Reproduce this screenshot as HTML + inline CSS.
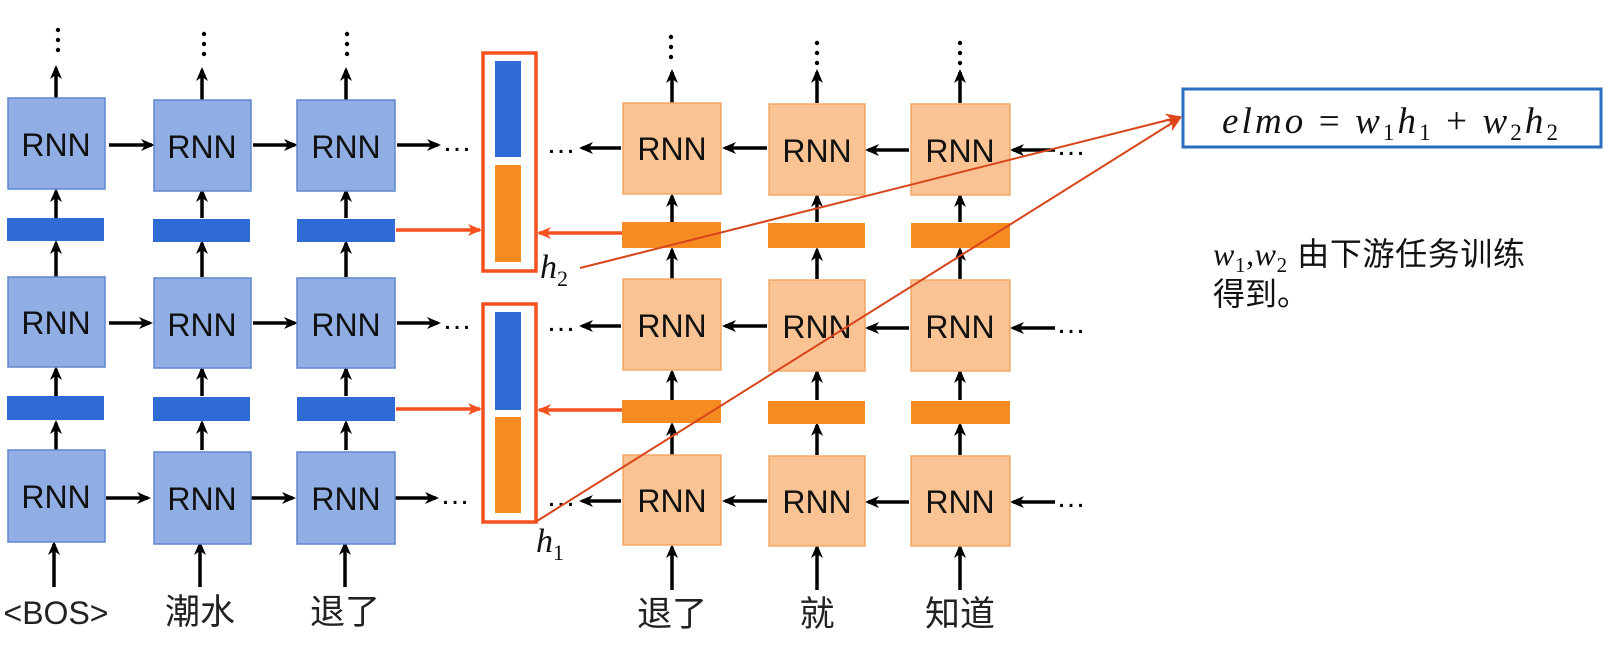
<!DOCTYPE html>
<html><head><meta charset="utf-8"><style>
html,body{margin:0;padding:0;background:#fff;}
svg{display:block;}
.rnn{font-family:"Liberation Sans","DejaVu Sans",sans-serif;font-size:32px;fill:#111;text-anchor:middle;}
.lbl{font-family:"Liberation Sans","Noto Sans CJK SC",sans-serif;font-size:35px;fill:#222;text-anchor:middle;}
.m{font-family:"Liberation Serif","DejaVu Serif",serif;font-style:italic;fill:#111;}
</style></head><body>
<svg width="1614" height="654" viewBox="0 0 1614 654" xmlns="http://www.w3.org/2000/svg">
<defs>
<marker id="a" markerWidth="14" markerHeight="14" refX="11" refY="7" orient="auto" markerUnits="userSpaceOnUse"><path d="M0,1 L14,7 L0,13 L4,7 z" fill="#000"/></marker>
<marker id="r" markerWidth="14" markerHeight="14" refX="12" refY="7" orient="auto" markerUnits="userSpaceOnUse"><path d="M0,1 L14,7 L0,13 L4,7 z" fill="#f4511e"/></marker>
<marker id="r2" markerWidth="16" markerHeight="14" refX="14" refY="7" orient="auto" markerUnits="userSpaceOnUse"><path d="M0,0 L16,7 L0,14 L5,7 z" fill="#e0441a"/></marker>
</defs>
<g stroke="#000" stroke-width="3.5" fill="none" marker-end="url(#a)">
<line x1="56" y1="98" x2="56" y2="68"/><line x1="202" y1="100" x2="202" y2="70"/><line x1="346" y1="100" x2="346" y2="70"/>
<line x1="56" y1="218" x2="56" y2="191"/><line x1="202" y1="218" x2="202" y2="191"/><line x1="346" y1="218" x2="346" y2="191"/>
<line x1="56" y1="277" x2="56" y2="243"/><line x1="202" y1="277" x2="202" y2="243"/><line x1="346" y1="277" x2="346" y2="243"/>
<line x1="56" y1="396" x2="56" y2="369"/><line x1="202" y1="396" x2="202" y2="369"/><line x1="346" y1="396" x2="346" y2="369"/>
<line x1="56" y1="450" x2="56" y2="423"/><line x1="202" y1="450" x2="202" y2="423"/><line x1="346" y1="450" x2="346" y2="423"/>
<line x1="54" y1="587" x2="54" y2="544"/><line x1="200" y1="587" x2="200" y2="544"/><line x1="345" y1="587" x2="345" y2="544"/>
<line x1="109" y1="145" x2="152" y2="145"/><line x1="253" y1="145" x2="295" y2="145"/><line x1="397" y1="145" x2="438" y2="145"/>
<line x1="109" y1="323" x2="150" y2="323"/><line x1="253" y1="323" x2="295" y2="323"/><line x1="397" y1="323" x2="438" y2="323"/>
<line x1="106" y1="498" x2="148" y2="498"/><line x1="251" y1="498" x2="293" y2="498"/><line x1="395" y1="498" x2="436" y2="498"/>
<line x1="672" y1="103" x2="672" y2="72"/><line x1="817" y1="103" x2="817" y2="72"/><line x1="960" y1="103" x2="960" y2="72"/>
<line x1="672" y1="222" x2="672" y2="196"/><line x1="817" y1="222" x2="817" y2="196"/><line x1="960" y1="222" x2="960" y2="196"/>
<line x1="672" y1="279" x2="672" y2="250"/><line x1="817" y1="279" x2="817" y2="250"/><line x1="960" y1="279" x2="960" y2="250"/>
<line x1="672" y1="400" x2="672" y2="372"/><line x1="817" y1="400" x2="817" y2="372"/><line x1="960" y1="400" x2="960" y2="372"/>
<line x1="672" y1="455" x2="672" y2="425"/><line x1="817" y1="455" x2="817" y2="425"/><line x1="960" y1="455" x2="960" y2="425"/>
<line x1="672" y1="590" x2="672" y2="547"/><line x1="817" y1="590" x2="817" y2="547"/><line x1="960" y1="590" x2="960" y2="547"/>
<line x1="621" y1="148" x2="582" y2="148"/><line x1="767" y1="148" x2="725" y2="148"/><line x1="909" y1="150" x2="868" y2="150"/><line x1="1055" y1="150" x2="1013" y2="150"/>
<line x1="621" y1="326" x2="582" y2="326"/><line x1="767" y1="326" x2="725" y2="326"/><line x1="909" y1="328" x2="868" y2="328"/><line x1="1055" y1="328" x2="1013" y2="328"/>
<line x1="621" y1="501" x2="582" y2="501"/><line x1="767" y1="501" x2="725" y2="501"/><line x1="909" y1="502" x2="868" y2="502"/><line x1="1055" y1="502" x2="1013" y2="502"/>
</g>
<g fill="#000">
<circle cx="58" cy="30" r="2.2"/><circle cx="58" cy="40" r="2.2"/><circle cx="58" cy="50" r="2.2"/>
<circle cx="204" cy="34" r="2.2"/><circle cx="204" cy="44" r="2.2"/><circle cx="204" cy="54" r="2.2"/>
<circle cx="347" cy="34" r="2.2"/><circle cx="347" cy="44" r="2.2"/><circle cx="347" cy="54" r="2.2"/>
<circle cx="671" cy="37" r="2.2"/><circle cx="671" cy="47" r="2.2"/><circle cx="671" cy="57" r="2.2"/>
<circle cx="817" cy="43" r="2.2"/><circle cx="817" cy="53" r="2.2"/><circle cx="817" cy="63" r="2.2"/>
<circle cx="960" cy="43" r="2.2"/><circle cx="960" cy="53" r="2.2"/><circle cx="960" cy="63" r="2.2"/>
</g>
<g font-family="Liberation Sans,sans-serif" font-size="30" fill="#000">
<text x="442" y="151">…</text><text x="442" y="329">…</text><text x="440" y="504">…</text>
<text x="546" y="153">…</text><text x="546" y="331">…</text><text x="546" y="506">…</text>
<text x="1056" y="155">…</text><text x="1056" y="333">…</text><text x="1056" y="507">…</text>
</g>
<g fill="#90aee3" stroke="#5f86d0" stroke-width="1.5">
<rect x="8" y="98" width="97" height="91"/><rect x="154" y="100" width="97" height="91"/><rect x="297" y="100" width="98" height="91"/>
<rect x="8" y="277" width="97" height="90"/><rect x="154" y="278" width="97" height="90"/><rect x="297" y="278" width="98" height="90"/>
<rect x="8" y="450" width="97" height="92"/><rect x="154" y="452" width="97" height="92"/><rect x="297" y="452" width="98" height="92"/>
</g>
<g fill="#2e6bd4">
<rect x="7" y="218" width="97" height="23"/><rect x="153" y="219" width="97" height="23"/><rect x="297" y="219" width="98" height="23"/>
<rect x="7" y="396" width="97" height="24"/><rect x="153" y="397" width="97" height="24"/><rect x="297" y="397" width="98" height="24"/>
</g>
<g fill="#f9c394" stroke="#f2a868" stroke-width="1.5">
<rect x="623" y="103" width="98" height="91"/><rect x="769" y="104" width="96" height="91"/><rect x="911" y="104" width="99" height="91"/>
<rect x="623" y="279" width="98" height="91"/><rect x="769" y="280" width="96" height="91"/><rect x="911" y="280" width="99" height="91"/>
<rect x="623" y="455" width="98" height="90"/><rect x="769" y="456" width="96" height="90"/><rect x="911" y="456" width="99" height="90"/>
</g>
<g fill="#f68b21">
<rect x="622" y="222" width="99" height="26"/><rect x="768" y="223" width="97" height="25"/><rect x="911" y="223" width="99" height="25"/>
<rect x="622" y="400" width="99" height="23"/><rect x="768" y="401" width="97" height="23"/><rect x="911" y="401" width="99" height="23"/>
</g>
<g class="rnn">
<text x="56" y="156">RNN</text><text x="202" y="158">RNN</text><text x="346" y="158">RNN</text>
<text x="56" y="334">RNN</text><text x="202" y="336">RNN</text><text x="346" y="336">RNN</text>
<text x="56" y="508">RNN</text><text x="202" y="510">RNN</text><text x="346" y="510">RNN</text>
<text x="672" y="160">RNN</text><text x="817" y="162">RNN</text><text x="960" y="162">RNN</text>
<text x="672" y="337">RNN</text><text x="817" y="338">RNN</text><text x="960" y="338">RNN</text>
<text x="672" y="512">RNN</text><text x="817" y="513">RNN</text><text x="960" y="513">RNN</text>
</g>
<g fill="none" stroke="#f4511e" stroke-width="3.5">
<rect x="483" y="53" width="53" height="218"/><rect x="483" y="304" width="53" height="218"/>
</g>
<rect x="495" y="61" width="26" height="96" fill="#2e6bd4"/><rect x="495" y="165" width="26" height="97" fill="#f68b21"/>
<rect x="495" y="312" width="26" height="98" fill="#2e6bd4"/><rect x="495" y="417" width="26" height="96" fill="#f68b21"/>
<g stroke="#f4511e" stroke-width="3.5" marker-end="url(#r)">
<line x1="396" y1="230" x2="480" y2="230"/><line x1="622" y1="233" x2="539" y2="233"/>
<line x1="396" y1="409" x2="480" y2="409"/><line x1="622" y1="410" x2="539" y2="410"/>
</g>
<g stroke="#d9451b" stroke-width="2" marker-end="url(#r2)">
<line x1="580" y1="268" x2="1180" y2="117"/><line x1="537" y1="521" x2="1180" y2="118"/>
</g>
<text class="m" x="540" y="278" font-size="34">h<tspan font-size="22" font-style="normal" dy="8">2</tspan></text>
<text class="m" x="536" y="552" font-size="34">h<tspan font-size="22" font-style="normal" dy="8">1</tspan></text>
<g class="lbl">
<text x="56" y="624" font-size="32">&lt;BOS&gt;</text><text x="200" y="624">潮水</text><text x="345" y="624">退了</text>
<text x="672" y="626">退了</text><text x="817" y="626">就</text><text x="960" y="626">知道</text>
</g>
<rect x="1183" y="89" width="418" height="58" fill="#fff" stroke="#2a6fc0" stroke-width="3"/>
<text class="m" x="1222" y="133" font-size="37" textLength="336" lengthAdjust="spacing">elmo <tspan font-style="normal">=</tspan> w<tspan font-size="23" font-style="normal" dy="7">1</tspan><tspan dy="-7">h</tspan><tspan font-size="23" font-style="normal" dy="7">1</tspan><tspan dy="-7" font-style="normal"> + </tspan>w<tspan font-size="23" font-style="normal" dy="7">2</tspan><tspan dy="-7">h</tspan><tspan font-size="23" font-style="normal" dy="7">2</tspan></text>
<text x="1213" y="265" font-size="32" fill="#111" font-family="Liberation Sans,Noto Sans CJK SC,sans-serif" textLength="312" lengthAdjust="spacing"><tspan font-family="Liberation Serif,serif" font-style="italic">w</tspan><tspan font-size="21" dy="7" font-family="Liberation Serif,serif">1</tspan><tspan dy="-7" font-family="Liberation Serif,serif">,</tspan><tspan font-family="Liberation Serif,serif" font-style="italic">w</tspan><tspan font-size="21" dy="7" font-family="Liberation Serif,serif">2</tspan><tspan dy="-7"> 由下游任务训练</tspan></text>
<text x="1213" y="305" font-size="32" fill="#111" font-family="Liberation Sans,Noto Sans CJK SC,sans-serif">得到。</text>
</svg>
</body></html>
